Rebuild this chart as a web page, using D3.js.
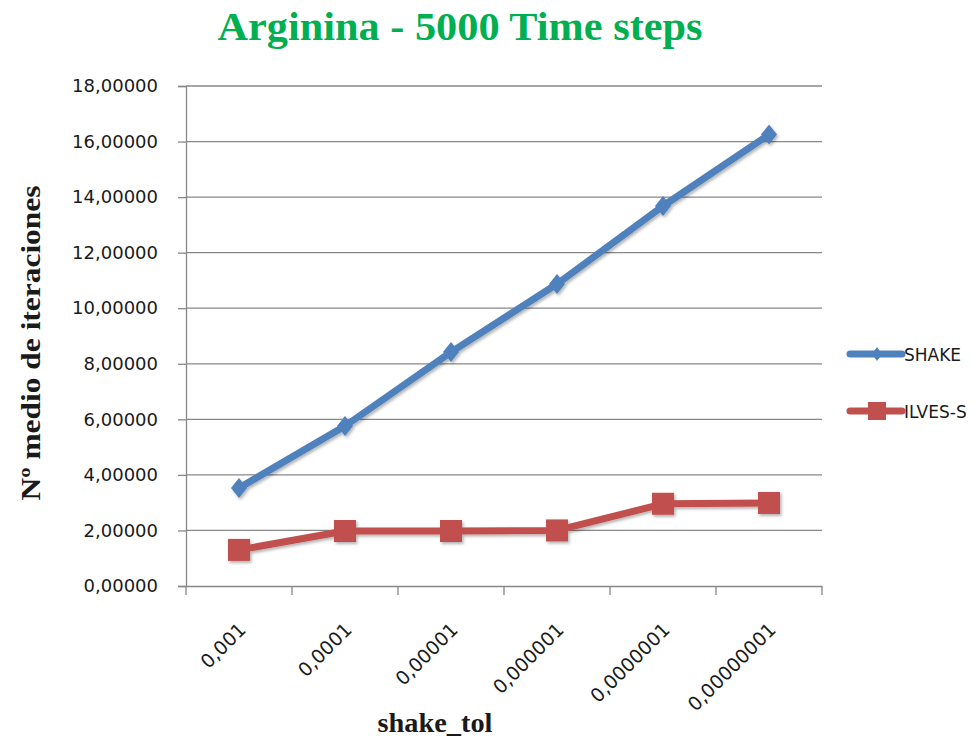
<!DOCTYPE html>
<html>
<head>
<meta charset="utf-8">
<script src="https://cdn.jsdelivr.net/npm/d3@7"></script>
<style>
  body { margin: 0; background: #fff; }
  svg { display: block; }
</style>
</head>
<body>
<svg id="chart"></svg>
<script>
// data
const categories = ["0,001", "0,0001", "0,00001", "0,000001", "0,0000001", "0,00000001"];
const shake = [3.53, 5.76, 8.42, 10.87, 13.68, 16.25];
const ilves = [1.30, 1.98, 1.98, 2.00, 2.96, 2.99];
const yTicks = [0, 2, 4, 6, 8, 10, 12, 14, 16, 18];

const width = 978, height = 738;
const margin = { left: 186, right: 156, top: 86, bottom: 152 };
const plotW = width - margin.left - margin.right;
const plotH = height - margin.top - margin.bottom;

const svg = d3.select('#chart')
    .attr('width', width)
    .attr('height', height);

const defs = svg.append('defs');
const shadow = defs.append('filter').attr('id', 'shadow')
    .attr('x', '-30%').attr('y', '-30%').attr('width', '160%').attr('height', '160%');
shadow.append('feDropShadow')
    .attr('dx', 1.5).attr('dy', 2).attr('stdDeviation', 1.5)
    .attr('flood-color', '#000').attr('flood-opacity', 0.3);

const x = d3.scaleBand()
    .domain(categories)
    .range([0, plotW]);

const y = d3.scaleLinear()
    .domain([0, 18])
    .range([plotH, 0]);

const g = svg.append('g')
    .attr('transform', `translate(${margin.left},${margin.top})`);

const tickFont = 'DejaVu Sans, Verdana, sans-serif';

// gridlines
g.append('g')
    .selectAll('line')
    .data(yTicks.filter(d => d > 0))
    .enter()
    .append('line')
    .attr('x1', 0)
    .attr('x2', plotW)
    .attr('y1', d => y(d))
    .attr('y2', d => y(d))
    .attr('stroke', '#888')
    .attr('stroke-width', 1.3);

// y axis
const yAxis = g.append('g')
    .call(d3.axisLeft(y).tickValues(yTicks).tickSize(8).tickPadding(20)
        .tickFormat(d => d3.format('.5f')(d).replace('.', ',')));
yAxis.select('.domain').attr('stroke', '#888').attr('stroke-width', 1.3);
yAxis.selectAll('.tick line').attr('stroke', '#888').attr('stroke-width', 1.3);
yAxis.selectAll('.tick text')
    .attr('font-family', tickFont)
    .attr('font-size', '18px')
    .attr('fill', '#1a1a1a');

// x axis
const xAxis = g.append('g')
    .attr('transform', `translate(0,${plotH})`)
    .call(d3.axisBottom(x).tickSize(0).tickPadding(0));
xAxis.select('.domain').attr('stroke', '#888').attr('stroke-width', 1.3);
xAxis.selectAll('.tick text')
    .attr('font-family', tickFont)
    .attr('font-size', '19px')
    .attr('fill', '#1a1a1a')
    .attr('text-anchor', 'end')
    .attr('dy', 0)
    .attr('transform', 'translate(8,45) rotate(-45)');

// x tick marks at band edges
g.append('g')
    .selectAll('line')
    .data(d3.range(categories.length + 1))
    .enter()
    .append('line')
    .attr('x1', i => i * x.step())
    .attr('x2', i => i * x.step())
    .attr('y1', plotH)
    .attr('y2', plotH + 9)
    .attr('stroke', '#888')
    .attr('stroke-width', 1.3);

const cx = d => x(d) + x.bandwidth() / 2;

const series = [
    { name: 'SHAKE', values: shake, color: '#4F81BD', marker: 'diamond' },
    { name: 'ILVES-S', values: ilves, color: '#C0504D', marker: 'square' }
];

const line = d3.line()
    .x((d, i) => cx(categories[i]))
    .y(d => y(d));

function drawMarker(sel, type, color) {
    if (type === 'diamond') {
        sel.append('path')
            .attr('d', 'M0,-10 L8,0 L0,10 L-8,0 Z')
            .attr('fill', color);
    } else {
        sel.append('rect')
            .attr('x', -11).attr('y', -11)
            .attr('width', 22).attr('height', 22)
            .attr('fill', color);
    }
}

series.forEach(s => {
    const sg = g.append('g').attr('filter', 'url(#shadow)');
    sg.append('path')
        .datum(s.values)
        .attr('d', line)
        .attr('fill', 'none')
        .attr('stroke', s.color)
        .attr('stroke-width', 7)
        .attr('stroke-linejoin', 'round');
    sg.selectAll('.m')
        .data(s.values)
        .enter()
        .append('g')
        .attr('transform', (d, i) => `translate(${cx(categories[i])},${y(d)})`)
        .each(function() { drawMarker(d3.select(this), s.marker, s.color); });
});

// legend
const legend = svg.append('g');
series.forEach((s, i) => {
    const ly = 354 + i * 57;
    const lg = legend.append('g').attr('transform', `translate(850,${ly})`);
    lg.append('line')
        .attr('x1', 0).attr('x2', 52)
        .attr('stroke', s.color).attr('stroke-width', 7)
        .attr('stroke-linecap', 'round');
    const m = lg.append('g').attr('transform', 'translate(27,0)');
    if (s.marker === 'diamond') {
        m.append('path').attr('d', 'M0,-7 L5,0 L0,7 L-5,0 Z').attr('fill', s.color);
    } else {
        m.append('rect').attr('x', -9).attr('y', -9).attr('width', 18).attr('height', 18).attr('fill', s.color);
    }
    lg.append('text')
        .attr('x', 54)
        .attr('y', 6.5)
        .attr('font-family', tickFont)
        .attr('font-size', '17px')
        .attr('fill', '#1a1a1a')
        .text(s.name);
});

// title
svg.append('text')
    .attr('x', 460)
    .attr('y', 40)
    .attr('text-anchor', 'middle')
    .attr('font-family', 'Liberation Serif, serif')
    .attr('font-weight', 'bold')
    .attr('font-size', '40px')
    .attr('textLength', 485)
    .attr('lengthAdjust', 'spacingAndGlyphs')
    .attr('fill', '#00B050')
    .text('Arginina - 5000 Time steps');

// axis titles
svg.append('text')
    .attr('transform', 'translate(40,343) rotate(-90)')
    .attr('text-anchor', 'middle')
    .attr('font-family', 'Liberation Serif, serif')
    .attr('font-weight', 'bold')
    .attr('font-size', '27px')
    .attr('textLength', 315)
    .attr('lengthAdjust', 'spacingAndGlyphs')
    .attr('fill', '#1a1a1a')
    .text('Nº medio de iteraciones');

svg.append('text')
    .attr('x', 435)
    .attr('y', 732)
    .attr('text-anchor', 'middle')
    .attr('font-family', 'Liberation Serif, serif')
    .attr('font-weight', 'bold')
    .attr('font-size', '27px')
    .attr('textLength', 115)
    .attr('lengthAdjust', 'spacingAndGlyphs')
    .attr('fill', '#1a1a1a')
    .text('shake_tol');
</script>
</body>
</html>
